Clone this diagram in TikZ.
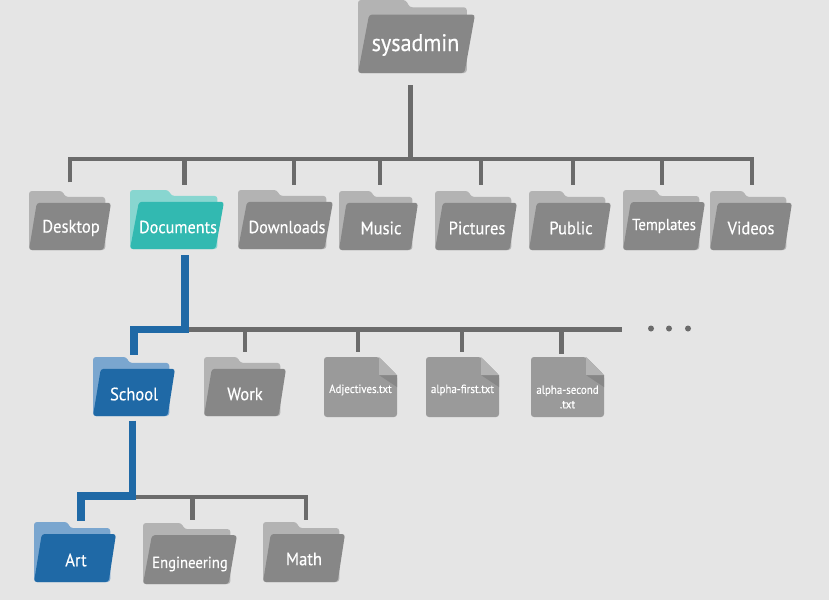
\documentclass[tikz,border=0pt]{standalone}
\usepackage{fontspec}
\setmainfont[FakeBold=0.35,FakeStretch=0.92]{PT Sans}
\definecolor{bgc}{HTML}{E5E5E5}
\definecolor{grayF}{HTML}{878787}
\definecolor{grayB}{HTML}{B3B3B3}
\definecolor{tealF}{HTML}{32B9B1}
\definecolor{tealB}{HTML}{88D6D0}
\definecolor{blueF}{HTML}{1F69A6}
\definecolor{blueB}{HTML}{7AA6CF}
\definecolor{fileF}{HTML}{9A9A9A}
\definecolor{lineG}{HTML}{6B6B6B}
\tikzset{
  x=0.75pt,y=-0.75pt,
  lbl/.style={text=white,inner sep=0pt,align=center,font=\fontsize{#1}{#1}\selectfont},
  busG/.style={draw=lineG,line width=3.1pt},
  busB/.style={draw=blueF,line width=5.6pt},
  part/.style={line join=round,rounded corners=2.2pt},
}
% name, x, y, w, h, front, back, text, size, tx, ty
\newcommand{\fldr}[9]{%
  \fill[#7,part] (#2,#3) -- ({#2+0.41*#4},#3) -- ({#2+0.44*#4},{#3+0.1*#5}) -- ({#2+0.93*#4},{#3+0.1*#5}) -- ({#2+0.93*#4},{#3+#5}) -- (#2,{#3+#5}) -- cycle;
  \fill[#6,part] ({#2+0.095*#4},{#3+0.2*#5}) -- ({#2+#4},{#3+0.2*#5}) -- ({#2+0.91*#4},{#3+#5}) -- (#2,{#3+#5}) -- cycle;
  \node[inner sep=0pt,outer sep=0pt,minimum width=#4*0.75pt,minimum height=#5*0.75pt] (#1) at ({#2+#4/2},{#3+#5/2}) {};
  \fldrtext{#1}{#8}{#9}%
}
\newcommand{\fldrtext}[3]{\def\fldrname{#1}\def\fldrlabel{#2}\def\fldrsize{#3}\fldrfinish}
\newcommand{\fldrfinish}[2]{\node[lbl=\fldrsize] (\fldrname-t) at (#1,#2) {\fldrlabel};}
% name, x, y, text, size, ty
\newcommand{\txtfile}[6]{%
  \fill[fileF,part] (#2,#3) -- ({#2+55},#3) -- ({#2+73},{#3+18}) -- ({#2+73},{#3+60}) -- (#2,{#3+60}) -- cycle;
  \fill[grayF] ({#2+55},{#3+18}) -- ({#2+73},{#3+18}) -- ({#2+73},{#3+30}) -- cycle;
  \fill[grayB] ({#2+55},#3) -- ({#2+73},{#3+18}) -- ({#2+55},{#3+18}) -- cycle;
  \node[inner sep=0pt,outer sep=0pt,minimum width=54.75pt,minimum height=45pt] (#1) at ({#2+36.5},{#3+30}) {};
  \node[lbl=#5] (#1-t) at ({#2+36.5},#6) {#4};
}
\begin{document}
\begin{tikzpicture}
\useasboundingbox (0,0) rectangle (829,600);
\fill[bgc] (0,0) rectangle (829,600);

\fldr{sysadmin}{358}{0}{117}{73}{grayF}{grayB}{sysadmin}{18}{415.5}{45}
\fldr{desktop}{29}{191}{82}{59}{grayF}{grayB}{Desktop}{13.5}{71}{228}
\fldr{documents}{130}{190}{94}{59}{tealF}{tealB}{Documents}{13.2}{178}{227}
\fldr{downloads}{238}{190}{95}{59}{grayF}{grayB}{Downloads}{13.2}{287}{227}
\fldr{music}{339}{191}{79}{59}{grayF}{grayB}{Music}{13.5}{381}{228}
\fldr{pictures}{435}{191}{82}{59}{grayF}{grayB}{Pictures}{13.5}{477}{228}
\fldr{public}{529}{191}{82}{59}{grayF}{grayB}{Public}{13.5}{571}{228}
\fldr{templates}{623}{190}{82}{60}{grayF}{grayB}{Templates}{12}{664}{226}
\fldr{videos}{710}{191}{82}{59}{grayF}{grayB}{Videos}{13.5}{751}{228}
\fldr{school}{93}{357}{82}{59}{blueF}{blueB}{School}{13.5}{134}{394}
\fldr{work}{204}{357}{82}{59}{grayF}{grayB}{Work}{13.5}{245}{394}
\fldr{art}{34}{522}{82}{60}{blueF}{blueB}{Art}{13.5}{76}{560}
\fldr{engineering}{143}{523}{94}{61}{grayF}{grayB}{Engineering}{12}{190}{564}
\fldr{math}{263}{522}{82}{60}{grayF}{grayB}{Math}{13.5}{304}{559}
\txtfile{adjectives}{324}{357}{Adjectives.txt}{8.9}{390}
\txtfile{alphafirst}{426}{357}{alpha-first.txt}{8.9}{390}
\txtfile{alphasecond}{531}{357}{alpha-second\\[2pt].txt}{8.9}{397}

% junction points
\coordinate (rootTee) at (410.5,159);
\coordinate (busL) at (70,159);
\coordinate (busR) at (752,159);
\coordinate (t1) at (184.5,159);
\coordinate (t2) at (294,159);
\coordinate (t3) at (380,159);
\coordinate (t4) at (481,159);
\coordinate (t5) at (573,159);
\coordinate (t6) at (662,159);
\coordinate (docsTee) at (185,329.5);
\coordinate (docsEnd) at (622,329.5);
\coordinate (d1) at (245,329.5);
\coordinate (d2) at (358,329.5);
\coordinate (d3) at (462,329.5);
\coordinate (d4) at (561.5,329.5);
\coordinate (schoolTop) at (134,329.5);
\coordinate (schTee) at (132.5,496);
\coordinate (artTop) at (81,496);
\coordinate (s0) at (132.5,497);
\coordinate (s1) at (192.5,497);
\coordinate (s2) at (306,497);

% grey tree
\draw[busG] ([yshift=-9pt]sysadmin.south -| rootTee) -- (rootTee);
\draw[busG] ([yshift=6.5pt]desktop.north -| busL) -- (busL) -- (busR) -- ([yshift=4.5pt]videos.north -| busR);
\draw[busG] (t1) -- ([yshift=4pt]documents.north -| t1);
\draw[busG] (t2) -- ([yshift=4pt]downloads.north -| t2);
\draw[busG] (t3) -- ([yshift=4.5pt]music.north -| t3);
\draw[busG] (t4) -- ([yshift=4.5pt]pictures.north -| t4);
\draw[busG] (t5) -- ([yshift=4.5pt]public.north -| t5);
\draw[busG] (t6) -- ([yshift=4pt]templates.north -| t6);
\draw[busG] (docsTee) -- (docsEnd);
\draw[busG] (d1) -- ([yshift=3.5pt]work.north -| d1);
\draw[busG] (d2) -- ([yshift=3.5pt]adjectives.north -| d2);
\draw[busG] (d3) -- ([yshift=3.5pt]alphafirst.north -| d3);
\draw[busG] (d4) -- ([yshift=2.5pt]alphasecond.north -| d4);
\draw[busG] (s0) -- (s2) -- ([yshift=1.5pt]math.north -| s2);
\draw[busG] (s1) -- ([yshift=2pt]engineering.north -| s1);

% blue highlighted path
\draw[busB] ([yshift=-4.5pt]documents.south -| docsTee) -- (docsTee) -- (schoolTop) -- ([yshift=1.5pt]school.north -| schoolTop);
\draw[busB] ([yshift=-3.5pt]school.south -| schTee) -- (schTee) -- (artTop) -- ([yshift=0.5pt]art.north -| artTop);

% ellipsis dots
\fill[lineG] (651,328.5) circle (3) (669,328.5) circle (3) (688,328.5) circle (3);
\end{tikzpicture}
\end{document}
